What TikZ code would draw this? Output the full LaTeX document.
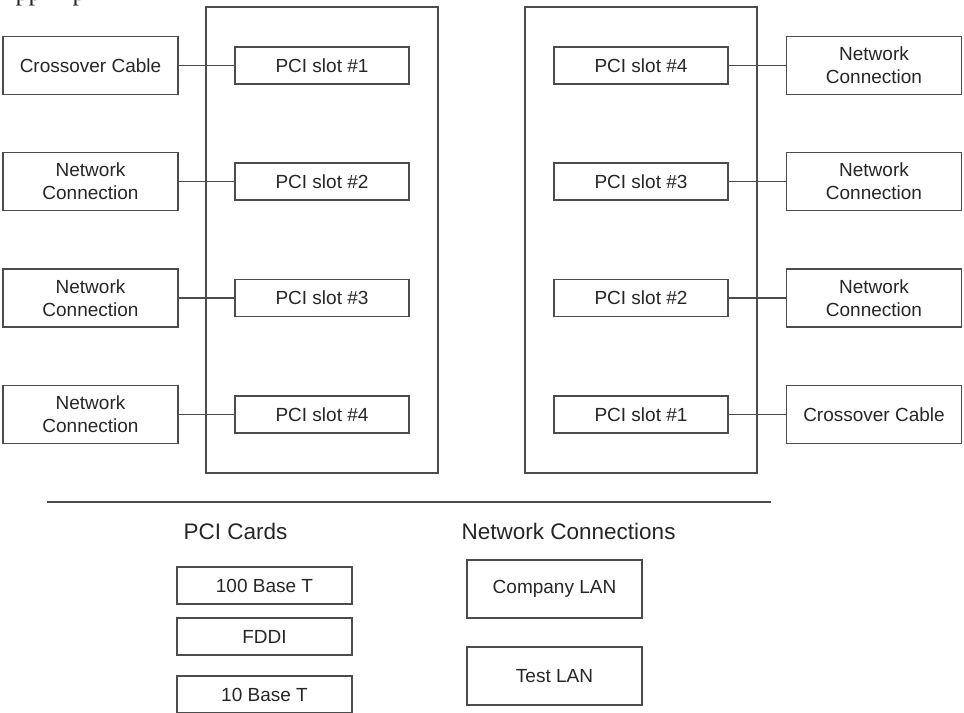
\documentclass[tikz,border=0pt]{standalone}
\usepackage{fontspec}
\setmainfont{Liberation Sans}
\newfontfamily\seriffrag{Liberation Serif}
\begin{document}
\begin{tikzpicture}[x=1bp,y=-1bp,
  line width=1.4bp,
  every node/.style={text=black!85},
  linecol/.style={draw=black!70},
  outerbox/.style={linecol, rectangle, minimum width=175bp, minimum height=58bp, inner sep=0pt, align=center, font=\fontsize{19bp}{23bp}\selectfont},
  slotbox/.style={linecol, rectangle, minimum width=174bp, minimum height=37bp, inner sep=0pt, align=center, font=\fontsize{19bp}{23bp}\selectfont},
  cabinet/.style={linecol, rectangle, minimum width=232bp, minimum height=466bp, inner sep=0pt},
  heading/.style={inner sep=0pt, anchor=west, font=\fontsize{22.5bp}{26bp}\selectfont},
  link/.style={linecol}
]
\useasboundingbox (0,0) rectangle (964,713);

% clipped fragments of text above the picture
\node[inner sep=0pt, anchor=base west, font=\seriffrag\fontsize{26bp}{28bp}\selectfont] (fragA) at (15,0.5) {pp};
\node[inner sep=0pt, anchor=base west, font=\seriffrag\fontsize{26bp}{28bp}\selectfont] (fragB) at (72,0.5) {p};

% cabinets
\node[cabinet] (cabL) at (322,240) {};
\node[cabinet] (cabR) at (641,240) {};

% left side
\node[outerbox] (l1) at (90.5,65.5) {Crossover Cable};
\node[outerbox] (l2) at (90.5,181.5) {Network\\Connection};
\node[outerbox] (l3) at (90.5,298) {Network\\Connection};
\node[outerbox] (l4) at (90.5,414.5) {Network\\Connection};
\node[slotbox] (sl1) at (322,65.5) {PCI slot \#1};
\node[slotbox] (sl2) at (322,181.5) {PCI slot \#2};
\node[slotbox] (sl3) at (322,298) {PCI slot \#3};
\node[slotbox] (sl4) at (322,414.5) {PCI slot \#4};

% right side
\node[slotbox] (sr4) at (641,65.5) {PCI slot \#4};
\node[slotbox] (sr3) at (641,181.5) {PCI slot \#3};
\node[slotbox] (sr2) at (641,298) {PCI slot \#2};
\node[slotbox] (sr1) at (641,414.5) {PCI slot \#1};
\node[outerbox] (r1) at (874,65.5) {Network\\Connection};
\node[outerbox] (r2) at (874,181.5) {Network\\Connection};
\node[outerbox] (r3) at (874,298) {Network\\Connection};
\node[outerbox] (r4) at (874,414.5) {Crossover Cable};

% connectors
\draw[link] (l1.east) -- (sl1.west);
\draw[link] (l2.east) -- (sl2.west);
\draw[link] (l3.east) -- (sl3.west);
\draw[link] (l4.east) -- (sl4.west);
\draw[link] (sr4.east) -- (r1.west);
\draw[link] (sr3.east) -- (r2.west);
\draw[link] (sr2.east) -- (r3.west);
\draw[link] (sr1.east) -- (r4.west);

% separator
\coordinate (sepA) at (47,502);
\coordinate (sepB) at (771,502);
\draw[link] (sepA) -- (sepB);

% legend
\node[heading] (hcards) at (183,531) {PCI Cards};
\node[heading] (hnet) at (461,531) {Network Connections};
\node[slotbox, minimum width=175bp] (c1) at (264.5,585.5) {100 Base T};
\node[slotbox, minimum width=175bp] (c2) at (264.5,636.5) {FDDI};
\node[slotbox, minimum width=175bp] (c3) at (264.5,694.5) {10 Base T};
\node[outerbox] (n1) at (554.5,589) {Company LAN};
\node[outerbox] (n2) at (554.5,676) {Test LAN};
\end{tikzpicture}
\end{document}
